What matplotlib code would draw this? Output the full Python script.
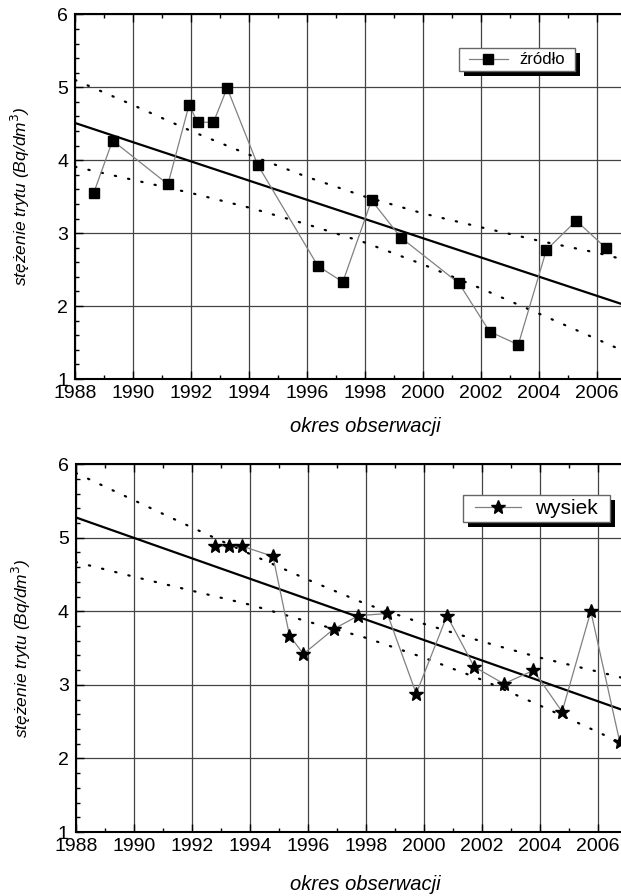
import numpy as np
import matplotlib
matplotlib.use("Agg")
import matplotlib.pyplot as plt
from matplotlib.ticker import MultipleLocator
from matplotlib.patches import Rectangle

plt.rcParams['font.family'] = ['Liberation Sans', 'DejaVu Sans']

# --- zrodlo (top) ---
src_years = [1988.64, 1989.29, 1991.2, 1991.93, 1992.22, 1992.77, 1993.24, 1994.29,
             1996.37, 1997.23, 1998.22, 1999.23, 2001.24, 2002.29, 2003.28, 2004.25,
             2005.28, 2006.32]
src_vals = [3.55, 4.27, 3.67, 4.76, 4.52, 4.52, 4.99, 3.94,
            2.55, 2.33, 3.45, 2.94, 2.31, 1.65, 1.47, 2.77,
            3.17, 2.79]

# --- wysiek (bottom) ---
see_years = [1992.8, 1993.28, 1993.73, 1994.8, 1995.37, 1995.85, 1996.9, 1997.74,
             1998.74, 1999.74, 2000.8, 2001.74, 2002.76, 2003.78, 2004.77, 2005.76,
             2006.76]
see_vals = [4.886, 4.886, 4.886, 4.746, 3.67, 3.42, 3.76, 3.94,
            3.97, 2.88, 3.94, 3.245, 3.015, 3.196, 2.635, 4.0,
            2.22]

# fit lines (endpoints) and confidence bands
fit_x = [1988, 2008]
src_fit = [4.51, 4.51 - 0.1317 * 20]
see_fit = [5.276, 5.276 - 0.1388 * 20]

band_x = [1988, 1990, 1992, 1994, 1996, 1998, 2000, 2002, 2004, 2006, 2007.5]
src_up = [5.10, 4.755, 4.40, 4.075, 3.77, 3.50, 3.27, 3.08, 2.895, 2.73, 2.58]
src_lo = [3.91, 3.73, 3.55, 3.35, 3.12, 2.87, 2.57, 2.24, 1.895, 1.545, 1.28]
see_up = [5.88, 5.51, 5.14, 4.78, 4.43, 4.10, 3.83, 3.59, 3.37, 3.18, 3.03]
see_lo = [4.67, 4.47, 4.28, 4.09, 3.86, 3.64, 3.37, 3.07, 2.72, 2.36, 2.08]

xticks = list(range(1988, 2008, 2))


def setup(ax, xpad):
    ax.set_xlim(1988, 2008)
    ax.set_ylim(1, 6)
    ax.set_xticks(xticks)
    ax.set_xticklabels([str(t) for t in xticks], fontsize=14)
    ax.xaxis.set_minor_locator(MultipleLocator(1))
    ax.yaxis.set_major_locator(MultipleLocator(1))
    ax.yaxis.set_minor_locator(MultipleLocator(0.2))
    ax.tick_params(axis='y', labelsize=14, pad=5)
    ax.tick_params(axis='x', pad=4)
    ax.tick_params(which='both', direction='in', top=True, right=True)
    ax.tick_params(which='major', length=6, width=1)
    ax.tick_params(which='minor', length=3, width=1)
    ax.grid(True, which='major', color='#444444', lw=0.9)
    for s in ax.spines.values():
        s.set_linewidth(1.5)
    ax.set_xlabel('okres obserwacji', fontsize=14.5, style='italic', labelpad=xpad)
    ax.set_ylabel('stężenie trytu (Bq/dm$^3$)', fontsize=12.5, style='italic', labelpad=18)


fig = plt.figure(figsize=(6.21, 8.96), dpi=100)
ax1 = fig.add_axes([0.121, 0.577, 0.934, 0.407])
ax2 = fig.add_axes([0.122, 0.0714, 0.934, 0.4106])

dots = dict(color='black', lw=1.6, linestyle=(0, (0.6, 5.5)), dash_capstyle='round')

for ax, up, lo, fit, xpad in [(ax1, src_up, src_lo, src_fit, 11),
                              (ax2, see_up, see_lo, see_fit, 15)]:
    setup(ax, xpad)
    ax.plot(band_x, up, **dots)
    ax.plot(band_x, lo, **dots)
    ax.plot(fit_x, fit, color='black', lw=1.6)
    ax.set_axisbelow(True)

l1, = ax1.plot(src_years, src_vals, color='#808080', lw=0.9, marker='s', ms=6.5,
               mfc='black', mec='black', label='źródło', zorder=5)
l2, = ax2.plot(see_years, see_vals, color='#808080', lw=0.9, marker='*', ms=10,
               mfc='black', mec='black', label='wysiek', zorder=5)

leg1 = ax1.legend(handles=[l1], loc='center', bbox_to_anchor=(0.762, 0.875),
                  fontsize=12, frameon=False, handlelength=2.3, borderpad=0,
                  handletextpad=0.7)
leg2 = ax2.legend(handles=[l2], loc='center', bbox_to_anchor=(0.794, 0.879),
                  fontsize=15, frameon=False, handlelength=2.2, borderpad=0,
                  handletextpad=0.7)

# legend frame with black drop shadow (drawn by hand for the offset)
fig.canvas.draw()
for ax, leg, padx, pady in ((ax1, leg1, 10, 4), (ax2, leg2, 12, 4)):
    leg.set_zorder(22)
    bb = leg.get_window_extent()
    x0, y0 = bb.x0 - padx, bb.y0 - pady
    w, h = bb.width + 2 * padx, bb.height + 2 * pady
    ax.add_artist(Rectangle((x0 + 5, y0 - 5), w, h, transform=None,
                            facecolor='black', edgecolor='none', zorder=20,
                            clip_on=False))
    ax.add_artist(Rectangle((x0, y0), w, h, transform=None, facecolor='white',
                            edgecolor='#666666', lw=1, zorder=21, clip_on=False))

fig.savefig('out.png', dpi=100)
